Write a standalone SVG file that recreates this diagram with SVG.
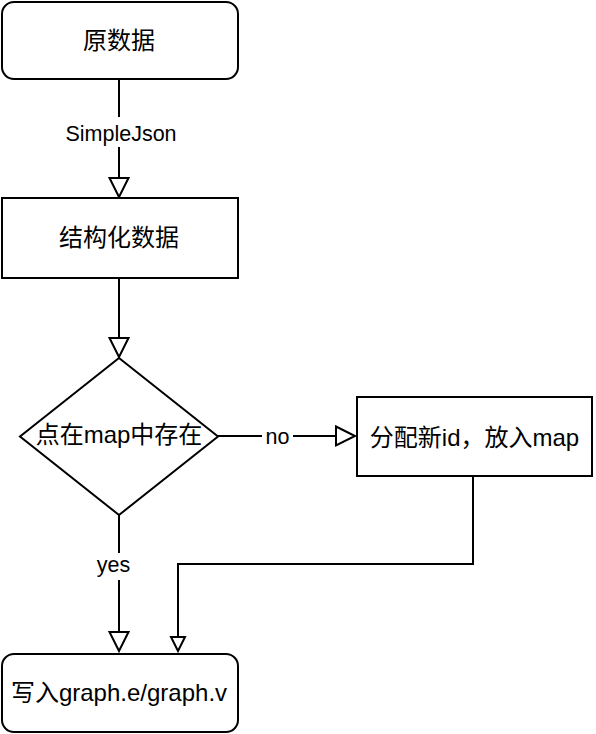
<svg xmlns="http://www.w3.org/2000/svg" width="596" height="734" viewBox="0 0 596 734">
<style>
.node{fill:#fff;stroke:#000;stroke-width:2}
.t{font-family:"Liberation Sans","Noto Sans CJK SC",sans-serif;font-size:24px;fill:#000;text-anchor:middle}
.lbl{font-family:"Liberation Sans","Noto Sans CJK SC",sans-serif;font-size:21.5px;fill:#000;text-anchor:middle}
.edge{fill:none;stroke:#000;stroke-width:2}
</style>
<defs>
<marker id="arr" markerUnits="userSpaceOnUse" markerWidth="24" markerHeight="24" refX="19" refY="9.5" orient="auto" viewBox="-2 -2 24 24">
<path d="M0,0 L19,9.5 L0,19 Z" fill="#fff" stroke="#000" stroke-width="2"/>
</marker>
<marker id="arrs" markerUnits="userSpaceOnUse" markerWidth="20" markerHeight="20" refX="14" refY="7" orient="auto" viewBox="-2 -2 20 20">
<path d="M0,0 L14,7 L0,14 Z" fill="#fff" stroke="#000" stroke-width="2"/>
</marker>
</defs>
<rect width="596" height="734" fill="#fff"/>
<g id="connectors">
<path class="edge" d="M119,79 L119,197" marker-end="url(#arr)"/>
<path class="edge" d="M119,278 L119,357" marker-end="url(#arr)"/>
<path class="edge" d="M218,436 L355,436" marker-end="url(#arr)"/>
<path class="edge" d="M119,515 L119,651" marker-end="url(#arr)"/>
<path class="edge" d="M473,476 L473,564 L178,564 L178,651" marker-end="url(#arrs)"/>
<rect x="62" y="117" width="118" height="30" fill="#fff"/>
<text class="lbl" x="121" y="140.5">SimpleJson</text>
<rect x="262" y="424" width="31" height="26" fill="#fff"/>
<text class="lbl" x="277.5" y="444">no</text>
<rect x="94" y="553" width="40" height="27" fill="#fff"/>
<text class="lbl" x="113.5" y="572">yes</text>
</g>
<g id="n1">
<rect class="node" x="2" y="2" width="236" height="77" rx="12"/>
<text class="t" x="119" y="49">原数据</text>
</g>
<g id="n2">
<rect class="node" x="2" y="198" width="236" height="80"/>
<text class="t" x="119" y="246">结构化数据</text>
</g>
<g id="n3">
<polygon class="node" points="119,358 218,436.5 119,515 20,436.5"/>
<text class="t" x="119" y="443">点在map中存在</text>
</g>
<g id="n4">
<rect class="node" x="357" y="397" width="235" height="79"/>
<text class="t" x="474.5" y="446">分配新id，放入map</text>
</g>
<g id="n5">
<rect class="node" x="2" y="654" width="236" height="78" rx="12"/>
<text class="t" x="119" y="701">写入graph.e/graph.v</text>
</g>
</svg>
